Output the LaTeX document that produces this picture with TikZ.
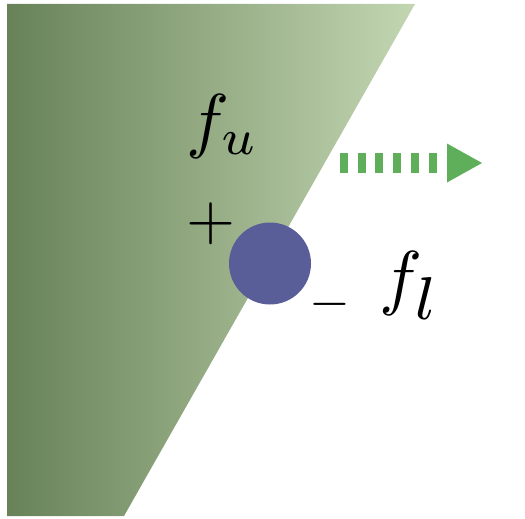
\documentclass[tikz,border=0pt]{standalone}
\usetikzlibrary{arrows.meta}
\definecolor{gdark}{RGB}{104,130,88}
\definecolor{glight}{RGB}{194,214,178}
\definecolor{ball}{RGB}{90,94,152}
\definecolor{arrowgreen}{RGB}{95,174,90}
\tikzset{
  lbl/.style={inner sep=0pt, text=black},
  dotarrow/.style={arrowgreen, line width=20pt, dash pattern=on 8pt off 9.7pt}
}
\begin{document}
\begin{tikzpicture}[x=1pt,y=-1pt]
\useasboundingbox (0,0) rectangle (525,519);
\shade[left color=gdark,right color=glight] (7,4) -- (415,4) -- (124,516) -- (7,516) -- cycle;
\node[circle, fill=ball, minimum size=82pt, inner sep=0pt] (ball) at (270,263.5) {};
\node[lbl, anchor=base west] (fu) at (186,144) {\scalebox{7.2}{$f_u$}};
\node[lbl, anchor=base west] (fl) at (379,301) {\scalebox{7.2}{$f_{\raisebox{-1pt}{\scalebox{1.2}{$\scriptstyle l$}}}$}};
\node[lbl] (plus) at (211,224) {\scalebox{6.3}{$+$}};
\node[lbl] (minus) at (329.5,304) {\scalebox{5.25}{$-$}};
\coordinate (a0) at (340,163);
\coordinate (a1) at (437,163);
\coordinate (h0) at (447,143.5);
\coordinate (h1) at (482,163);
\coordinate (h2) at (447,182.5);
\draw[dotarrow] (a0) -- (a1);
\fill[arrowgreen] (h0) -- (h1) -- (h2) -- cycle;
\end{tikzpicture}
\end{document}
